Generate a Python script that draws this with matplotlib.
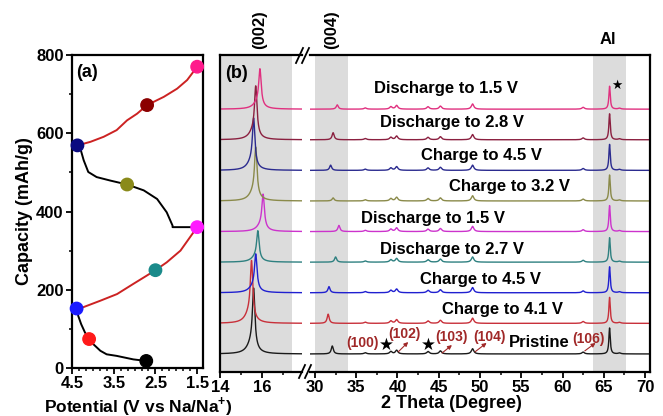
import numpy as np
import matplotlib
matplotlib.use('Agg')
import matplotlib.pyplot as plt
from matplotlib.lines import Line2D

plt.rcParams['font.family'] = ['Liberation Sans', 'DejaVu Sans']
plt.rcParams['font.weight'] = 'bold'
plt.rcParams['mathtext.fontset'] = 'custom'
plt.rcParams['mathtext.bf'] = 'Liberation Sans:bold'

# ---- panel (a): capacity vs potential ----
dis1_v = [2.72, 3.03, 3.43, 3.67, 3.82, 3.99, 4.09, 4.19, 4.28, 4.35, 4.39]
dis1_c = [18, 22, 31, 35, 44, 61, 74, 91, 112, 133, 155]
chg1_v = [4.39, 4.24, 3.82, 3.42, 3.03, 2.71, 2.50, 2.23, 1.90, 1.50]
chg1_c = [153, 155, 172, 189, 215, 236, 250, 270, 300, 360]
dis2_v = [1.50, 2.09, 2.09, 2.23, 2.46, 2.78, 3.18, 3.58, 3.91, 4.11, 4.22, 4.30, 4.37]
dis2_c = [360, 360, 364, 398, 432, 454, 469, 479, 488, 501, 531, 561, 569]
chg2_v = [4.37, 4.06, 3.74, 3.43, 3.18, 2.94, 2.70, 2.30, 1.98, 1.74, 1.50]
chg2_c = [569, 578, 591, 608, 633, 650, 672, 693, 714, 736, 770]

dot_v = [2.72, 4.09, 4.39, 2.50, 1.50, 3.18, 4.37, 2.70, 1.50]
dot_c = [18, 74, 152, 250, 360, 469, 569, 672, 770]
dot_colors = ['#000000', '#ff1a1a', '#1a1aff', '#1a8a8a', '#ff1aff',
              '#8a8a1a', '#0a0a80', '#8b0000', '#ff1a8c']

# ---- panel (b): XRD patterns, bottom to top ----
labels = ['Pristine', 'Charge to 4.1 V', 'Charge to 4.5 V', 'Discharge to 2.7 V',
          'Discharge to 1.5 V', 'Charge to 3.2 V', 'Charge to 4.5 V',
          'Discharge to 2.8 V', 'Discharge to 1.5 V']
colors = ['#1a1a1a', '#c8303a', '#2020d0', '#2e8080', '#cc33cc',
          '#8a8a4a', '#2b2b8f', '#8b2040', '#e0307f']
p002_pos = [15.6, 15.5, 15.7, 15.8, 16.05, 15.7, 15.6, 15.7, 15.9]
p002_h = [2.2, 2.1, 1.3, 1.05, 1.25, 1.8, 1.75, 1.8, 1.35]
p004_pos = [32.1, 31.6, 31.7, 32.5, 32.9, 32.2, 31.9, 32.2, 32.7]
p004_h = [0.26, 0.3, 0.2, 0.17, 0.2, 0.1, 0.17, 0.23, 0.14]
minor_pos = [36.1, 39.2, 39.9, 43.7, 45.2, 49.1, 62.5, 66.9]
minor_h = [0.04, 0.08, 0.12, 0.08, 0.1, 0.17, 0.06, 0.03]
al_pos = 65.7
al_h = [0.85, 0.85, 0.85, 0.8, 0.85, 0.85, 0.85, 0.85, 0.75]

label_x = [57.2, 52.7, 50.0, 46.6, 44.3, 53.6, 50.2, 46.6, 45.9]
label_y = [0.36, 1.44, 2.42, 3.4, 4.44, 5.46, 6.5, 7.55, 8.66]

hkl_text = ['(100)', '(102)', '(103)', '(104)', '(106)']
hkl_x = [35.8, 40.8, 46.5, 51.1, 63.2]
hkl_y = [0.36, 0.65, 0.56, 0.56, 0.49]
arrow_from = [(40.1, 0.07), (45.4, 0.03), (49.4, 0.07), (62.7, 0.1)]
arrow_to = [(41.3, 0.39), (46.6, 0.29), (50.8, 0.36), (64.0, 0.36)]
star_x = [38.7, 43.8]
star_y = [0.29, 0.29]


def lor(x, pos, h, w):
    return h * w**2 / ((x - pos)**2 + w**2)


W, H = 663, 416


def rect(l, t, r, b):
    return [l / W, 1 - b / H, (r - l) / W, (b - t) / H]


fig = plt.figure(figsize=(6.63, 4.16), dpi=100)
axa = fig.add_axes(rect(72, 55, 203, 368))
axl = fig.add_axes(rect(220, 55, 302, 372))
axr = fig.add_axes(rect(310, 55, 650, 372))

# panel (a)
axa.plot(dis1_v, dis1_c, color='black', lw=1.4, zorder=2)
axa.plot(chg1_v, chg1_c, color='#cc2222', lw=1.4, zorder=2)
axa.plot(dis2_v, dis2_c, color='black', lw=1.4, zorder=2)
axa.plot(chg2_v, chg2_c, color='#cc2222', lw=1.4, zorder=2)
axa.scatter(dot_v, dot_c, s=80, c=dot_colors, zorder=3, clip_on=False)
axa.set_xlim(4.5, 1.36)
axa.set_ylim(0, 800)
axa.set_xticks([4.5, 3.5, 2.5, 1.5])
axa.set_xticks(np.arange(1.5, 4.51, 1 / 6), minor=True)
axa.set_yticks([0, 200, 400, 600, 800])
axa.set_yticks(np.arange(0, 801, 100), minor=True)
axa.set_ylabel('Capacity (mAh/g)', fontsize=13, fontweight='bold', labelpad=2)
axa.text(0.03, 0.97, '(a)', transform=axa.transAxes, fontsize=13,
         fontweight='bold', va='top', ha='left')

# panel (b)
xl = np.linspace(14, 17.9, 900)
xr = np.linspace(29.4, 70.6, 4000)
for i in range(len(labels)):
    yl = lor(xl, p002_pos[i], p002_h[i] * 0.85, 0.07)
    yl += lor(xl, p002_pos[i] - 0.1, p002_h[i] * 0.15, 0.25)
    yr = lor(xr, p004_pos[i], p004_h[i], 0.15)
    for p, h in zip(minor_pos, minor_h):
        yr += lor(xr, p, h, 0.18)
    yr += lor(xr, al_pos, al_h[i], 0.1)
    axl.plot(xl, yl + i, color=colors[i], lw=1.0)
    axr.plot(xr, yr + i, color=colors[i], lw=1.0)
    axr.text(label_x[i], label_y[i], labels[i], fontsize=12, fontweight='bold',
             ha='center', va='center')

for t, x, y in zip(hkl_text, hkl_x, hkl_y):
    axr.text(x, y, t, fontsize=10, fontweight='bold', color='#a02828',
             ha='center', va='center')
for a, b in zip(arrow_from, arrow_to):
    axr.annotate('', xy=b, xytext=a,
                 arrowprops=dict(arrowstyle='-|>', color='#a02828', lw=0.8,
                                 mutation_scale=6, shrinkA=0, shrinkB=0))
for x, y in zip(star_x, star_y):
    axr.text(x, y, '★', fontsize=12, ha='center', va='center', color='black')
axr.text(66.6, 8.75, '★', fontsize=9, ha='center', va='center', color='black')

axl.axvspan(14, 17.43, color='#dcdcdc', zorder=0, lw=0)
axr.axvspan(30.0, 34.0, color='#dcdcdc', zorder=0, lw=0)
axr.axvspan(63.7, 67.7, color='#dcdcdc', zorder=0, lw=0)

for ax in (axl, axr):
    ax.set_ylim(-0.59, 9.77)
    ax.set_yticks([])
axl.set_xlim(14, 17.9)
axr.set_xlim(29.4, 70.6)
axl.set_xticks([14, 16])
axl.set_xticks([15, 17], minor=True)
axr.set_xticks(np.arange(30, 71, 5))
axr.set_xticks(np.arange(30, 71, 2.5), minor=True)
axl.spines['right'].set_visible(False)
axr.spines['left'].set_visible(False)

for ax in (axa, axl, axr):
    for s in ax.spines.values():
        s.set_linewidth(1.6)
    ax.tick_params(which='major', direction='out', length=4, width=1.3,
                   labelsize=12, pad=2)
    ax.tick_params(which='minor', direction='out', length=2.5, width=1.1)
    for lab in ax.get_xticklabels() + ax.get_yticklabels():
        lab.set_fontweight('bold')

# break marks
for (x0, y0, x1, y1) in [(296, 63, 303, 48), (302, 63, 309, 48),
                         (299, 378, 305, 365), (305, 378, 311, 365)]:
    fig.add_artist(Line2D([x0 / W, x1 / W], [1 - y0 / H, 1 - y1 / H],
                          color='black', lw=1.3))

fig.text(138 / W, 1 - 406 / H, 'Potential (V vs Na/Na$^{\\mathbf{+}}$)',
         fontsize=12.5, fontweight='bold', ha='center', va='center')
fig.text(451 / W, 1 - 404 / H, '2 Theta (Degree)', fontsize=13,
         fontweight='bold', ha='center', va='center')
fig.text(260 / W, 1 - 30 / H, '(002)', fontsize=12, fontweight='bold',
         rotation=90, ha='center', va='center')
fig.text(332 / W, 1 - 30 / H, '(004)', fontsize=12, fontweight='bold',
         rotation=90, ha='center', va='center')
fig.text(608 / W, 1 - 40 / H, 'Al', fontsize=12, fontweight='bold',
         ha='center', va='center')
fig.text(236 / W, 1 - 73 / H, '(b)', fontsize=13, fontweight='bold',
         ha='center', va='center')

fig.savefig('out.png', dpi=100)
